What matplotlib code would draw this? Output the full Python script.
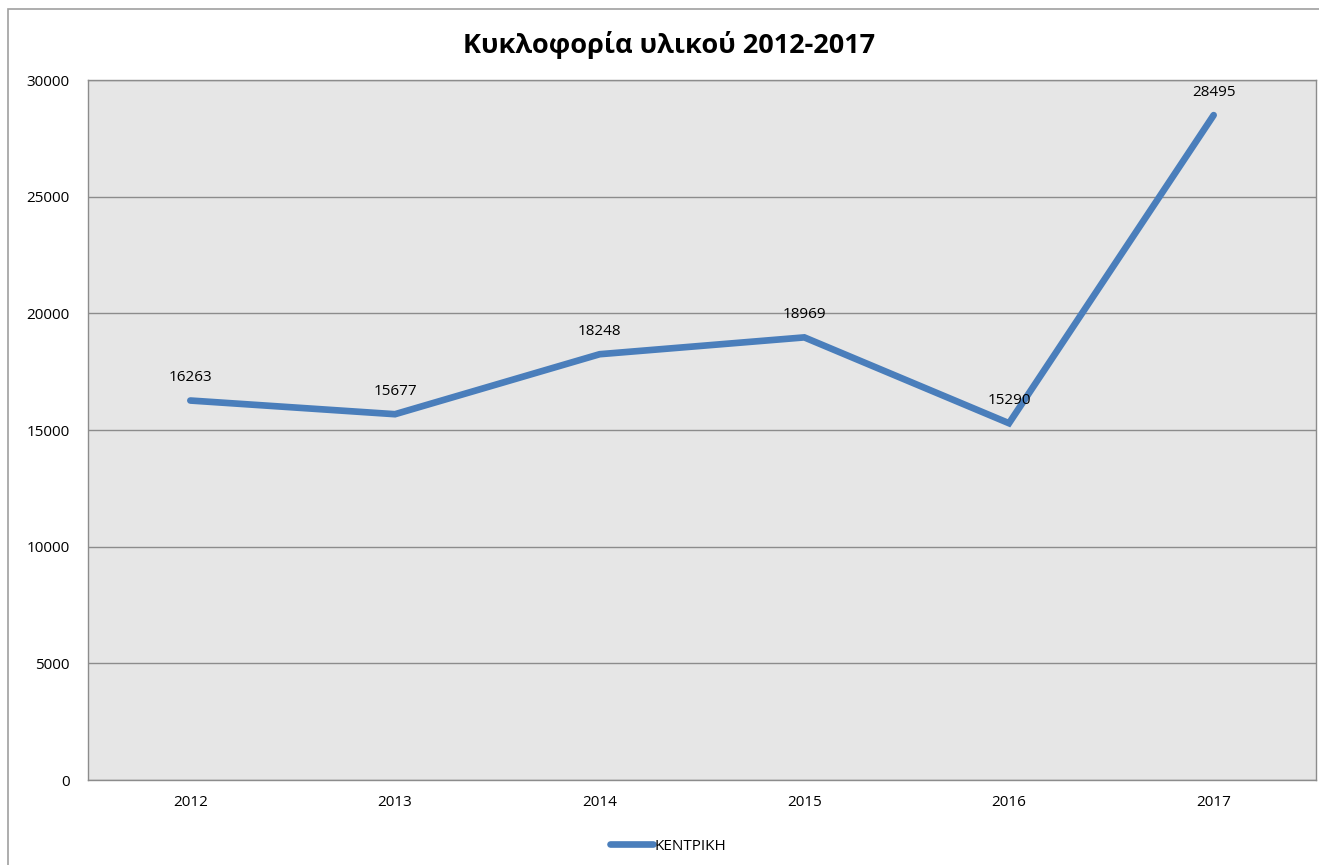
"""Κυκλοφορία υλικού 2012-2017 — Excel-style line chart recreated in matplotlib."""

import matplotlib

matplotlib.use("Agg")
import matplotlib.pyplot as plt  # noqa: E402
from matplotlib.patches import Rectangle  # noqa: E402

years = ["2012", "2013", "2014", "2015", "2016", "2017"]
kentriki = [16263, 15677, 18248, 18969, 15290, 28495]
y_ticks = [0, 5000, 10000, 15000, 20000, 25000, 30000]

title = "Κυκλοφορία υλικού 2012-2017"
series_name = "ΚΕΝΤΡΙΚΗ"

plt.rcParams["font.family"] = ["Open Sans", "DejaVu Sans"]

W, H = 1319, 865
fig = plt.figure(figsize=(W / 100, H / 100), dpi=100)

# outer chart border (cropped at right/bottom in the reference)
fig.patches.append(Rectangle((8 / W, -0.1), 1.2, 1 - 9 / H + 0.1,
                             transform=fig.transFigure, fill=False,
                             edgecolor="#a0a0a0", linewidth=1.2))

ax = fig.add_axes([88 / W, 1 - 780 / H, (1316 - 88) / W, (780 - 80) / H])
ax.set_facecolor("#e6e6e6")
for s in ax.spines.values():
    s.set_color("#8c8c8c")
    s.set_linewidth(1.0)

x = list(range(len(years)))
ax.plot(x, kentriki, color="#4a7ebb", linewidth=4.8, solid_capstyle="round",
        solid_joinstyle="miter", label=series_name, zorder=3)

for xi, v in zip(x, kentriki):
    ax.annotate(str(v), (xi, v), xytext=(0, 11), textcoords="offset points",
                ha="center", va="bottom", fontsize=11, color="black", zorder=4)

ax.set_xlim(-0.5, len(years) - 0.5)
ax.set_ylim(0, 30000)
ax.set_yticks(y_ticks)
ax.set_yticklabels([str(t) for t in y_ticks])
ax.set_xticks(x)
ax.set_xticklabels(years)
ax.tick_params(axis="both", length=0, labelsize=11, colors="black")
ax.tick_params(axis="y", pad=13)
ax.tick_params(axis="x", pad=11)
ax.yaxis.grid(True, color="#8c8c8c", linewidth=1.0)
ax.set_axisbelow(True)

fig.text(669 / W, 1 - 45 / H, title, ha="center", va="center",
         fontsize=19.5, fontweight="bold")

leg = ax.legend(loc="center", bbox_to_anchor=(668 / W, 1 - 846 / H),
                bbox_transform=fig.transFigure, frameon=False, fontsize=11,
                handlelength=2.8, handletextpad=0.1, borderpad=0)

fig.savefig("out.png", dpi=100)
plt.close(fig)
